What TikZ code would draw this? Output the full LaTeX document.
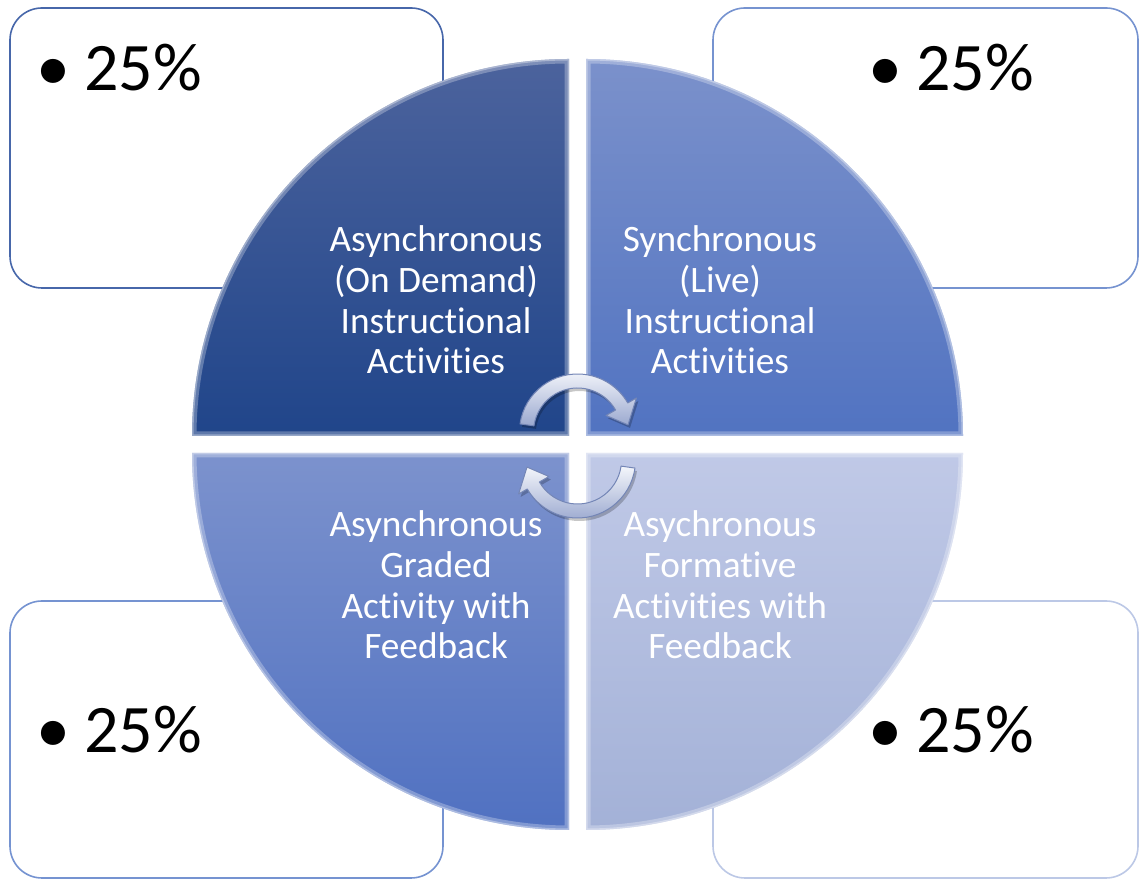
\documentclass[tikz,border=0pt]{standalone}
\usepackage{fontspec}
\setmainfont{Carlito}[Ligatures=NoCommon]
\definecolor{tlTop}{HTML}{4C639D}
\definecolor{tlBot}{HTML}{20458A}
\definecolor{trTop}{HTML}{7B91CB}
\definecolor{trBot}{HTML}{5173C1}
\definecolor{blTop}{HTML}{7C92CD}
\definecolor{blBot}{HTML}{5071C1}
\definecolor{brTop}{HTML}{C0C9E7}
\definecolor{brBot}{HTML}{A3B1D7}
\definecolor{bxTL}{HTML}{4767AA}
\definecolor{bxTR}{HTML}{7693D0}
\definecolor{bxBL}{HTML}{7593D1}
\definecolor{bxBR}{HTML}{BCC8E6}
\definecolor{arrLight}{HTML}{F4F6FB}
\definecolor{arrDark}{HTML}{9AA8CF}
\definecolor{arrEdge}{HTML}{7486B6}
\def\qTLpath{(569,444) -- (192,444) arc[start angle=180, end angle=90, radius=377] -- cycle}
\def\qTRpath{(586,444) -- (586,821) arc[start angle=90, end angle=0, radius=377] -- cycle}
\def\qBLpath{(569,427) -- (569,50) arc[start angle=-90, end angle=-180, radius=377] -- cycle}
\def\qBRpath{(586,427) -- (963,427) arc[start angle=0, end angle=-90, radius=377] -- cycle}
\def\cycArrowPath{(172:58) arc[start angle=172, end angle=30, radius=58] -- (30:68) -- (8:51) -- (30:33) -- (30:44) arc[start angle=30, end angle=172, radius=44] -- cycle}
\begin{document}
\begin{tikzpicture}[x=1pt, y=1pt,
  pctbox/.style={draw, line width=1.6pt, fill=white, rounded corners=32pt, inner sep=0pt},
  pcttext/.style={anchor=base west, inner sep=0pt, font=\fontsize{68}{72}\selectfont, text=black},
  quadtext/.style={anchor=base, align=center, inner sep=0pt, text=white, font=\fontsize{37.3}{40.7}\selectfont},
  bevel/.style={draw=white, opacity=0.28, line width=9pt},
  bevelthin/.style={draw=white, opacity=0.35, line width=3pt},
  cycarrow/.style={top color=arrLight, bottom color=arrDark, draw=arrEdge, line width=1pt, line join=round},
  cycshadow/.style={fill=black, opacity=0.22}]
\useasboundingbox (0,0) rectangle (1140,880);
% percentage boxes
\node[pctbox, draw=bxTL, minimum width=433pt, minimum height=280pt] (boxTL) at (226.5,732) {};
\node[pctbox, draw=bxTR, minimum width=425pt, minimum height=280pt] (boxTR) at (925.5,732) {};
\node[pctbox, draw=bxBL, minimum width=433pt, minimum height=277pt] (boxBL) at (226.5,140.5) {};
\node[pctbox, draw=bxBR, minimum width=425pt, minimum height=277pt] (boxBR) at (925.5,140.5) {};
\node[pcttext] (pctTL) at (43,789) {\makebox[20pt]{•}\hspace{21pt}25\%};
\node[pcttext] (pctTR) at (875,789) {\makebox[20pt]{•}\hspace{21pt}25\%};
\node[pcttext] (pctBL) at (43,127) {\makebox[20pt]{•}\hspace{21pt}25\%};
\node[pcttext] (pctBR) at (875,127) {\makebox[20pt]{•}\hspace{21pt}25\%};
% pie quadrants
\shade[top color=tlTop, bottom color=tlBot] \qTLpath;
\begin{scope}\clip \qTLpath; \path[bevel] \qTLpath; \path[bevelthin] \qTLpath; \end{scope}
\shade[top color=trTop, bottom color=trBot] \qTRpath;
\begin{scope}\clip \qTRpath; \path[bevel] \qTRpath; \path[bevelthin] \qTRpath; \end{scope}
\shade[top color=blTop, bottom color=blBot] \qBLpath;
\begin{scope}\clip \qBLpath; \path[bevel] \qBLpath; \path[bevelthin] \qBLpath; \end{scope}
\shade[top color=brTop, bottom color=brBot] \qBRpath;
\begin{scope}\clip \qBRpath; \path[bevel] \qBRpath; \path[bevelthin] \qBRpath; \end{scope}
% quadrant labels (anchored at the baseline of the last line)
\node[quadtext] (labTL) at (436,506) {Asynchronous\\(On Demand)\\Instructional\\Activities};
\node[quadtext] (labTR) at (720,506) {Synchronous\\(Live)\\Instructional\\Activities};
\node[quadtext] (labBL) at (436,221) {Asynchronous\\Graded\\Activity with\\Feedback};
\node[quadtext] (labBR) at (720,221) {Asychronous\\Formative\\Activities with\\Feedback};
% circular arrows
\begin{scope}[shift={(579.5,445)}]
  \path[cycshadow] \cycArrowPath;
\end{scope}
\begin{scope}[shift={(577.5,448)}]
  \path[cycarrow] \cycArrowPath;
\end{scope}
\begin{scope}[shift={(579.5,417)}, rotate=180]
  \path[cycshadow] \cycArrowPath;
\end{scope}
\begin{scope}[shift={(577.5,420)}, rotate=180]
  \path[cycarrow] \cycArrowPath;
\end{scope}
\end{tikzpicture}
\end{document}
